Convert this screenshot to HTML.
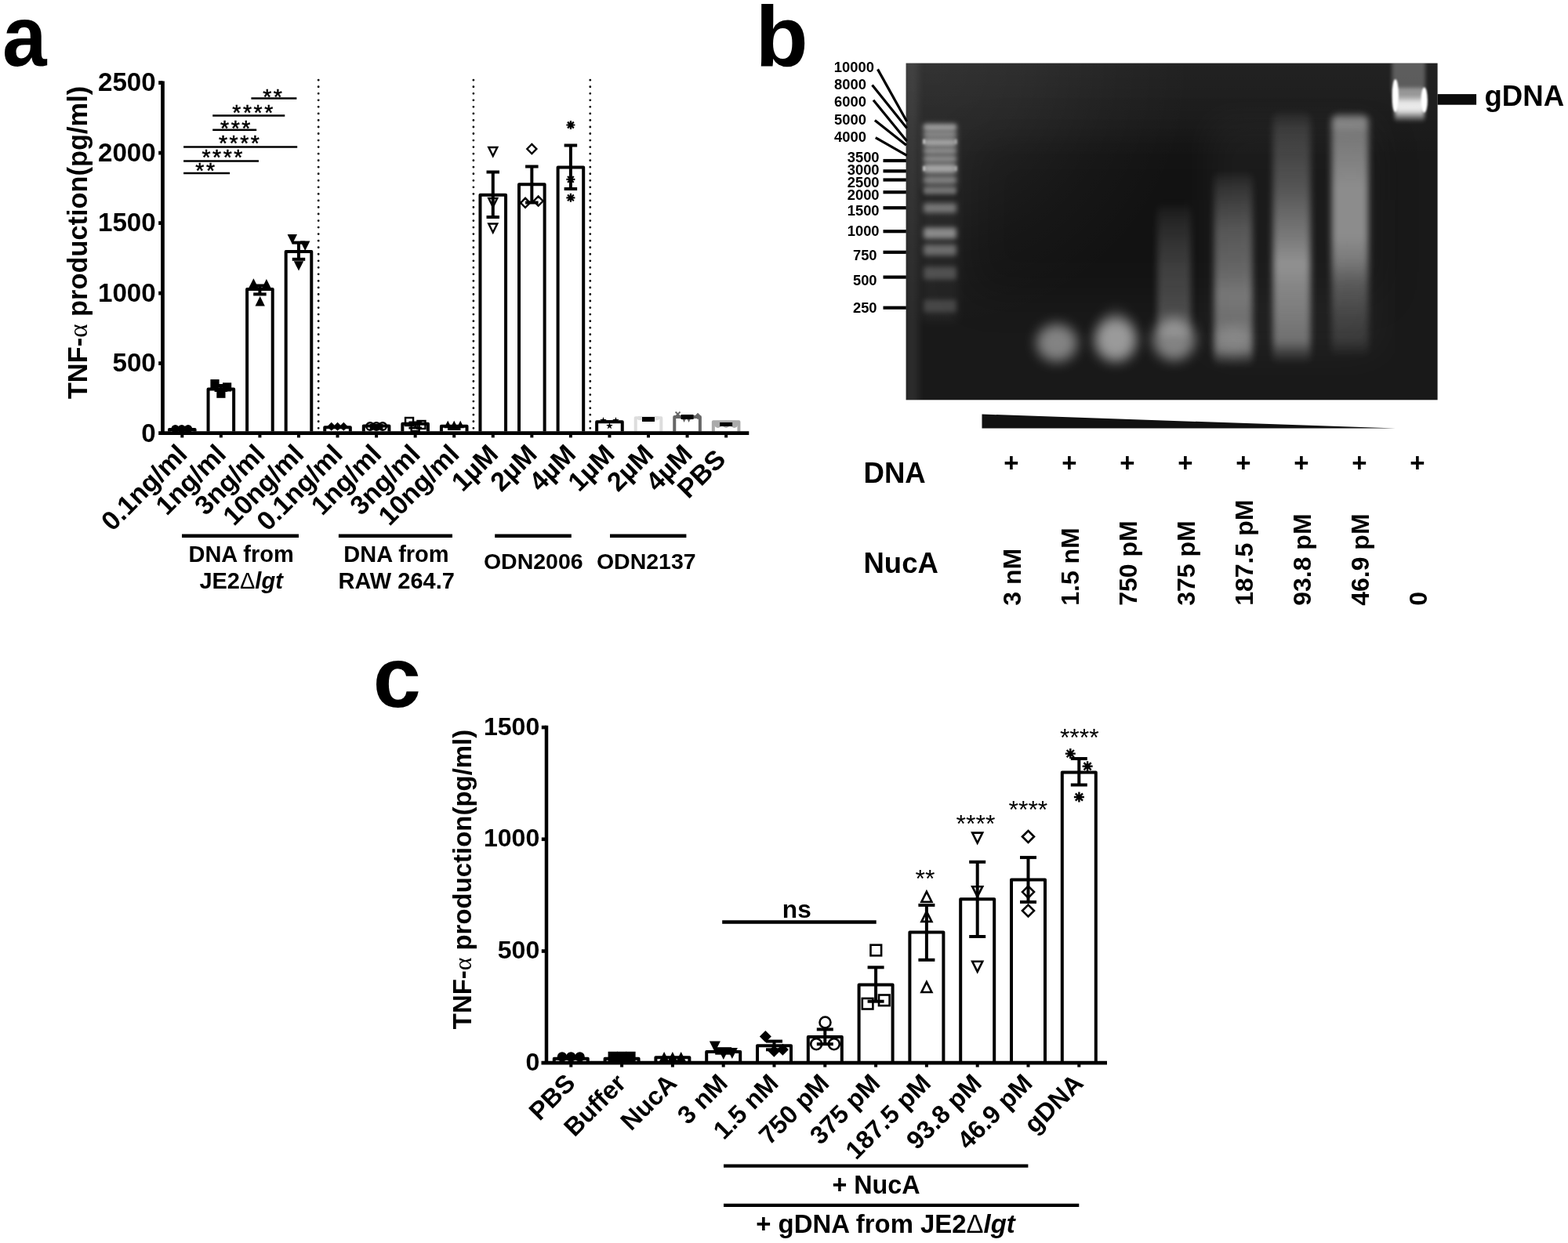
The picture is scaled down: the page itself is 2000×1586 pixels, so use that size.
<!DOCTYPE html>
<html lang="en"><head><meta charset="utf-8"><title>Figure</title>
<style>
html,body{margin:0;padding:0;background:#fff;}
body{width:2000px;height:1586px;overflow:hidden;}
svg{display:block;}
text{font-family:"Liberation Sans",sans-serif;fill:#000;}
</style></head><body>
<svg width="2000" height="1586" viewBox="0 0 2000 1586">
<rect x="0" y="0" width="2000" height="1586" fill="#fff"/>
<g id="panel-a">
<text transform="translate(2.9 83.7) scale(0.925 1)" font-size="110" font-weight="bold">a</text>
<text x="198.8" y="563.5" font-size="33.2" font-weight="bold" text-anchor="end" >0</text>
<line x1="202.2" y1="463.6" x2="207.5" y2="463.6" stroke="#000" stroke-width="4.8" />
<text x="198.8" y="474" font-size="33.2" font-weight="bold" text-anchor="end" >500</text>
<line x1="202.2" y1="374.1" x2="207.5" y2="374.1" stroke="#000" stroke-width="4.8" />
<text x="198.8" y="384.5" font-size="33.2" font-weight="bold" text-anchor="end" >1000</text>
<line x1="202.2" y1="284.6" x2="207.5" y2="284.6" stroke="#000" stroke-width="4.8" />
<text x="198.8" y="295" font-size="33.2" font-weight="bold" text-anchor="end" >1500</text>
<line x1="202.2" y1="195.1" x2="207.5" y2="195.1" stroke="#000" stroke-width="4.8" />
<text x="198.8" y="205.5" font-size="33.2" font-weight="bold" text-anchor="end" >2000</text>
<line x1="202.2" y1="105.6" x2="207.5" y2="105.6" stroke="#000" stroke-width="4.8" />
<text x="198.8" y="116" font-size="33.2" font-weight="bold" text-anchor="end" >2500</text>
<text x="111.3" y="309.5" font-size="34.4" font-weight="bold" text-anchor="middle" transform="rotate(-90 111.3 309.5)" >TNF-<tspan font-weight="normal" font-family="'Liberation Serif', serif" font-size="33">α</tspan> production(pg/ml)</text>
<line x1="406.2" y1="102.2" x2="406.2" y2="548" stroke="#000" stroke-width="2.8" stroke-dasharray="0 8.54" stroke-linecap="round"/>
<line x1="603.9" y1="102.2" x2="603.9" y2="548" stroke="#000" stroke-width="2.8" stroke-dasharray="0 8.54" stroke-linecap="round"/>
<line x1="752.8" y1="102.2" x2="752.8" y2="548" stroke="#000" stroke-width="2.8" stroke-dasharray="0 8.54" stroke-linecap="round"/>
<path d="M216 550.6V548H248.6V550.6" fill="none" stroke="#000" stroke-width="4" stroke-linejoin="round"/>
<path d="M265.56 550.6V496.6H298.16V550.6" fill="none" stroke="#000" stroke-width="4" stroke-linejoin="round"/>
<path d="M315.12 550.6V369H347.72V550.6" fill="none" stroke="#000" stroke-width="4" stroke-linejoin="round"/>
<path d="M364.68 550.6V321H397.28V550.6" fill="none" stroke="#000" stroke-width="4" stroke-linejoin="round"/>
<path d="M414.24 550.6V545.3H446.84V550.6" fill="none" stroke="#000" stroke-width="4" stroke-linejoin="round"/>
<path d="M463.8 550.6V543.5H496.4V550.6" fill="none" stroke="#000" stroke-width="4" stroke-linejoin="round"/>
<path d="M513.36 550.6V540.8H545.96V550.6" fill="none" stroke="#000" stroke-width="4" stroke-linejoin="round"/>
<path d="M562.92 550.6V543.8H595.52V550.6" fill="none" stroke="#000" stroke-width="4" stroke-linejoin="round"/>
<path d="M612.48 550.6V248.7H645.08V550.6" fill="none" stroke="#000" stroke-width="4" stroke-linejoin="round"/>
<path d="M662.04 550.6V235.3H694.64V550.6" fill="none" stroke="#000" stroke-width="4" stroke-linejoin="round"/>
<path d="M711.6 550.6V213.4H744.2V550.6" fill="none" stroke="#000" stroke-width="4" stroke-linejoin="round"/>
<path d="M761.16 550.6V538.2H793.76V550.6" fill="none" stroke="#000" stroke-width="4" stroke-linejoin="round"/>
<path d="M810.72 550.6V533.2H843.32V550.6" fill="none" stroke="#ddd" stroke-width="4" stroke-linejoin="round"/>
<path d="M860.28 550.6V532H892.88V550.6" fill="none" stroke="#666" stroke-width="4" stroke-linejoin="round"/>
<path d="M909.84 550.6V538.2H942.44V550.6" fill="none" stroke="#aaa" stroke-width="4" stroke-linejoin="round"/>
<circle cx="223.6" cy="547.3" r="5.2" fill="#000" stroke="#000" stroke-width="0" stroke-linejoin="miter"/>
<circle cx="231.8" cy="547.3" r="5.2" fill="#000" stroke="#000" stroke-width="0" stroke-linejoin="miter"/>
<circle cx="240" cy="547.3" r="5.2" fill="#000" stroke="#000" stroke-width="0" stroke-linejoin="miter"/>
<line x1="281.86" y1="492" x2="281.86" y2="498" stroke="#000" stroke-width="4" />
<line x1="273.61" y1="492" x2="290.11" y2="492" stroke="#000" stroke-width="4" />
<line x1="273.61" y1="498" x2="290.11" y2="498" stroke="#000" stroke-width="4" />
<rect x="268.4" y="484.1" width="11.2" height="11.2" fill="#000" stroke="#000" stroke-width="0" stroke-linejoin="miter"/>
<rect x="276.3" y="496.6" width="11.2" height="11.2" fill="#000" stroke="#000" stroke-width="0" stroke-linejoin="miter"/>
<rect x="284" y="488.3" width="11.2" height="11.2" fill="#000" stroke="#000" stroke-width="0" stroke-linejoin="miter"/>
<line x1="331.42" y1="364.5" x2="331.42" y2="375.4" stroke="#000" stroke-width="4" />
<line x1="323.17" y1="364.5" x2="339.67" y2="364.5" stroke="#000" stroke-width="4" />
<line x1="323.17" y1="375.4" x2="339.67" y2="375.4" stroke="#000" stroke-width="4" />
<path d="M317.2 367.6L329.6 367.6L323.4 355.2Z" fill="#000" stroke="#000" stroke-width="0" stroke-linejoin="miter"/>
<path d="M333.7 368.5L346.1 368.5L339.9 356.1Z" fill="#000" stroke="#000" stroke-width="0" stroke-linejoin="miter"/>
<path d="M325.5 390.4L337.9 390.4L331.7 378Z" fill="#000" stroke="#000" stroke-width="0" stroke-linejoin="miter"/>
<line x1="380.98" y1="309.6" x2="380.98" y2="330.8" stroke="#000" stroke-width="4" />
<line x1="372.73" y1="309.6" x2="389.23" y2="309.6" stroke="#000" stroke-width="4" />
<line x1="372.73" y1="330.8" x2="389.23" y2="330.8" stroke="#000" stroke-width="4" />
<path d="M366.6 299L379 299L372.8 311.4Z" fill="#000" stroke="#000" stroke-width="0" stroke-linejoin="miter"/>
<path d="M383 307.6L395.4 307.6L389.2 320Z" fill="#000" stroke="#000" stroke-width="0" stroke-linejoin="miter"/>
<path d="M374.8 333.2L387.2 333.2L381 345.6Z" fill="#000" stroke="#000" stroke-width="0" stroke-linejoin="miter"/>
<path d="M417.24 544.2L422.74 538.7L428.24 544.2L422.74 549.7Z" fill="#000" stroke="#000" stroke-width="0" stroke-linejoin="miter"/>
<path d="M425.04 544.2L430.54 538.7L436.04 544.2L430.54 549.7Z" fill="#000" stroke="#000" stroke-width="0" stroke-linejoin="miter"/>
<path d="M432.84 544.2L438.34 538.7L443.84 544.2L438.34 549.7Z" fill="#000" stroke="#000" stroke-width="0" stroke-linejoin="miter"/>
<line x1="480.1" y1="542.5" x2="480.1" y2="546.5" stroke="#000" stroke-width="3" />
<line x1="471.85" y1="542.5" x2="488.35" y2="542.5" stroke="#000" stroke-width="3" />
<line x1="471.85" y1="546.5" x2="488.35" y2="546.5" stroke="#000" stroke-width="3" />
<circle cx="472.1" cy="544" r="4.8" fill="none" stroke="#000" stroke-width="2.4" stroke-linejoin="miter"/>
<circle cx="480.1" cy="544" r="4.8" fill="none" stroke="#000" stroke-width="2.4" stroke-linejoin="miter"/>
<circle cx="488.1" cy="544" r="4.8" fill="none" stroke="#000" stroke-width="2.4" stroke-linejoin="miter"/>
<line x1="529.66" y1="539" x2="529.66" y2="546" stroke="#000" stroke-width="3" />
<line x1="521.41" y1="539" x2="537.91" y2="539" stroke="#000" stroke-width="3" />
<line x1="521.41" y1="546" x2="537.91" y2="546" stroke="#000" stroke-width="3" />
<rect x="517.06" y="533" width="10" height="10" fill="none" stroke="#000" stroke-width="2.4" stroke-linejoin="miter"/>
<rect x="524.66" y="540" width="10" height="10" fill="none" stroke="#000" stroke-width="2.4" stroke-linejoin="miter"/>
<rect x="532.46" y="537" width="10" height="10" fill="none" stroke="#000" stroke-width="2.4" stroke-linejoin="miter"/>
<line x1="579.22" y1="544" x2="579.22" y2="547.5" stroke="#000" stroke-width="3" />
<line x1="570.97" y1="544" x2="587.47" y2="544" stroke="#000" stroke-width="3" />
<line x1="570.97" y1="547.5" x2="587.47" y2="547.5" stroke="#000" stroke-width="3" />
<path d="M566.42 546.3L576.02 546.3L571.22 536.7Z" fill="#000" stroke="#000" stroke-width="0" stroke-linejoin="miter"/>
<path d="M574.42 546.3L584.02 546.3L579.22 536.7Z" fill="#000" stroke="#000" stroke-width="0" stroke-linejoin="miter"/>
<path d="M582.42 546.3L592.02 546.3L587.22 536.7Z" fill="#000" stroke="#000" stroke-width="0" stroke-linejoin="miter"/>
<line x1="628.78" y1="219.5" x2="628.78" y2="277" stroke="#000" stroke-width="4" />
<line x1="620.53" y1="219.5" x2="637.03" y2="219.5" stroke="#000" stroke-width="4" />
<line x1="620.53" y1="277" x2="637.03" y2="277" stroke="#000" stroke-width="4" />
<path d="M623.28 188L634.28 188L628.78 199Z" fill="none" stroke="#000" stroke-width="2.4" stroke-linejoin="miter"/>
<path d="M623.28 253L634.28 253L628.78 264Z" fill="none" stroke="#000" stroke-width="2.4" stroke-linejoin="miter"/>
<path d="M623.28 285.5L634.28 285.5L628.78 296.5Z" fill="none" stroke="#000" stroke-width="2.4" stroke-linejoin="miter"/>
<line x1="678.34" y1="212.5" x2="678.34" y2="258.5" stroke="#000" stroke-width="4" />
<line x1="670.09" y1="212.5" x2="686.59" y2="212.5" stroke="#000" stroke-width="4" />
<line x1="670.09" y1="258.5" x2="686.59" y2="258.5" stroke="#000" stroke-width="4" />
<path d="M672.34 190L678.34 184L684.34 190L678.34 196Z" fill="none" stroke="#000" stroke-width="2.4" stroke-linejoin="miter"/>
<path d="M664.04 258.8L670.04 252.8L676.04 258.8L670.04 264.8Z" fill="none" stroke="#000" stroke-width="2.4" stroke-linejoin="miter"/>
<path d="M680.64 256.5L686.64 250.5L692.64 256.5L686.64 262.5Z" fill="none" stroke="#000" stroke-width="2.4" stroke-linejoin="miter"/>
<line x1="727.9" y1="185.5" x2="727.9" y2="241" stroke="#000" stroke-width="4" />
<line x1="719.65" y1="185.5" x2="736.15" y2="185.5" stroke="#000" stroke-width="4" />
<line x1="719.65" y1="241" x2="736.15" y2="241" stroke="#000" stroke-width="4" />
<path d="M722.4 159.5L733.4 159.5M724.01 155.61L731.79 163.39M727.9 154L727.9 165M731.79 155.61L724.01 163.39" fill="none" stroke="#000" stroke-width="2.2"/>
<path d="M722.4 228.8L733.4 228.8M724.01 224.91L731.79 232.69M727.9 223.3L727.9 234.3M731.79 224.91L724.01 232.69" fill="none" stroke="#000" stroke-width="2.2"/>
<path d="M722.4 252.3L733.4 252.3M724.01 248.41L731.79 256.19M727.9 246.8L727.9 257.8M731.79 248.41L724.01 256.19" fill="none" stroke="#000" stroke-width="2.2"/>
<path d="M769.46 532L770.52 535.04L773.74 535.11L771.17 537.06L772.11 540.14L769.46 538.3L766.81 540.14L767.75 537.06L765.18 535.11L768.4 535.04Z" fill="#000"/>
<path d="M785.46 532L786.52 535.04L789.74 535.11L787.17 537.06L788.11 540.14L785.46 538.3L782.81 540.14L783.75 537.06L781.18 535.11L784.4 535.04Z" fill="#000"/>
<path d="M777.46 539L778.52 542.04L781.74 542.11L779.17 544.06L780.11 547.14L777.46 545.3L774.81 547.14L775.75 544.06L773.18 542.11L776.4 542.04Z" fill="#000"/>
<line x1="768.46" y1="538" x2="786.46" y2="538" stroke="#000" stroke-width="3.5" />
<rect x="813.92" y="530.9" width="5.2" height="5.2" fill="#ddd" stroke="#ddd" stroke-width="0" stroke-linejoin="miter"/>
<rect x="834.92" y="530.9" width="5.2" height="5.2" fill="#ddd" stroke="#ddd" stroke-width="0" stroke-linejoin="miter"/>
<line x1="819.02" y1="535" x2="835.02" y2="535" stroke="#000" stroke-width="6" />
<path d="M861.58 525.5l6 6m0 -6l-6 6" stroke="#666" stroke-width="1.8" fill="none"/>
<path d="M885.88 531L890.08 526.8L894.28 531L890.08 535.2Z" fill="#666" stroke="#666" stroke-width="0" stroke-linejoin="miter"/>
<path d="M869.98 533.9L875.18 533.9L872.58 539.1Z" fill="#666" stroke="#666" stroke-width="0" stroke-linejoin="miter"/>
<path d="M875.98 533.9L881.18 533.9L878.58 539.1Z" fill="#666" stroke="#666" stroke-width="0" stroke-linejoin="miter"/>
<line x1="868.58" y1="532" x2="884.58" y2="532" stroke="#000" stroke-width="6" />
<circle cx="915.64" cy="541.3" r="4.6" fill="#aaa" stroke="#aaa" stroke-width="0" stroke-linejoin="miter"/>
<circle cx="926.14" cy="541.3" r="4.6" fill="#aaa" stroke="#aaa" stroke-width="0" stroke-linejoin="miter"/>
<circle cx="936.64" cy="541.3" r="4.6" fill="#aaa" stroke="#aaa" stroke-width="0" stroke-linejoin="miter"/>
<line x1="918.14" y1="541.5" x2="934.14" y2="541.5" stroke="#000" stroke-width="5" />
<line x1="207.5" y1="103.5" x2="207.5" y2="554.9" stroke="#000" stroke-width="4.7" />
<line x1="202.2" y1="552.6" x2="955.3" y2="552.6" stroke="#000" stroke-width="4.6" />
<line x1="232.3" y1="552.6" x2="232.3" y2="558.4" stroke="#000" stroke-width="4" />
<line x1="281.86" y1="552.6" x2="281.86" y2="558.4" stroke="#000" stroke-width="4" />
<line x1="331.42" y1="552.6" x2="331.42" y2="558.4" stroke="#000" stroke-width="4" />
<line x1="380.98" y1="552.6" x2="380.98" y2="558.4" stroke="#000" stroke-width="4" />
<line x1="430.54" y1="552.6" x2="430.54" y2="558.4" stroke="#000" stroke-width="4" />
<line x1="480.1" y1="552.6" x2="480.1" y2="558.4" stroke="#000" stroke-width="4" />
<line x1="529.66" y1="552.6" x2="529.66" y2="558.4" stroke="#000" stroke-width="4" />
<line x1="579.22" y1="552.6" x2="579.22" y2="558.4" stroke="#000" stroke-width="4" />
<line x1="628.78" y1="552.6" x2="628.78" y2="558.4" stroke="#000" stroke-width="4" />
<line x1="678.34" y1="552.6" x2="678.34" y2="558.4" stroke="#000" stroke-width="4" />
<line x1="727.9" y1="552.6" x2="727.9" y2="558.4" stroke="#000" stroke-width="4" />
<line x1="777.46" y1="552.6" x2="777.46" y2="558.4" stroke="#000" stroke-width="4" />
<line x1="827.02" y1="552.6" x2="827.02" y2="558.4" stroke="#000" stroke-width="4" />
<line x1="876.58" y1="552.6" x2="876.58" y2="558.4" stroke="#000" stroke-width="4" />
<line x1="926.14" y1="552.6" x2="926.14" y2="558.4" stroke="#000" stroke-width="4" />
<text x="240.7" y="581.5" font-size="34" font-weight="bold" text-anchor="end" transform="rotate(-45 240.7 581.5)" >0.1ng/ml</text>
<text x="290.26" y="581.5" font-size="34" font-weight="bold" text-anchor="end" transform="rotate(-45 290.26 581.5)" >1ng/ml</text>
<text x="339.82" y="581.5" font-size="34" font-weight="bold" text-anchor="end" transform="rotate(-45 339.82 581.5)" >3ng/ml</text>
<text x="389.38" y="581.5" font-size="34" font-weight="bold" text-anchor="end" transform="rotate(-45 389.38 581.5)" >10ng/ml</text>
<text x="438.94" y="581.5" font-size="34" font-weight="bold" text-anchor="end" transform="rotate(-45 438.94 581.5)" >0.1ng/ml</text>
<text x="488.5" y="581.5" font-size="34" font-weight="bold" text-anchor="end" transform="rotate(-45 488.5 581.5)" >1ng/ml</text>
<text x="538.06" y="581.5" font-size="34" font-weight="bold" text-anchor="end" transform="rotate(-45 538.06 581.5)" >3ng/ml</text>
<text x="587.62" y="581.5" font-size="34" font-weight="bold" text-anchor="end" transform="rotate(-45 587.62 581.5)" >10ng/ml</text>
<text x="637.18" y="581.5" font-size="34" font-weight="bold" text-anchor="end" transform="rotate(-45 637.18 581.5)" >1µM</text>
<text x="686.74" y="581.5" font-size="34" font-weight="bold" text-anchor="end" transform="rotate(-45 686.74 581.5)" >2µM</text>
<text x="736.3" y="581.5" font-size="34" font-weight="bold" text-anchor="end" transform="rotate(-45 736.3 581.5)" >4µM</text>
<text x="785.86" y="581.5" font-size="34" font-weight="bold" text-anchor="end" transform="rotate(-45 785.86 581.5)" >1µM</text>
<text x="835.42" y="581.5" font-size="34" font-weight="bold" text-anchor="end" transform="rotate(-45 835.42 581.5)" >2µM</text>
<text x="884.98" y="581.5" font-size="34" font-weight="bold" text-anchor="end" transform="rotate(-45 884.98 581.5)" >4µM</text>
<text x="927.54" y="588" font-size="34" font-weight="bold" text-anchor="end" transform="rotate(-45 927.54 588)" >PBS</text>
<line x1="320.4" y1="125.4" x2="378.4" y2="125.4" stroke="#000" stroke-width="2.5" />
<text x="335.14" y="133.31" font-size="28.5" font-weight="normal" text-anchor="start" letter-spacing="2.51" stroke="#000" stroke-width="0.5">**</text>
<line x1="271.2" y1="147.6" x2="363.3" y2="147.6" stroke="#000" stroke-width="2.5" />
<text x="296.34" y="152.81" font-size="28.5" font-weight="normal" text-anchor="start" letter-spacing="2.51" stroke="#000" stroke-width="0.5">****</text>
<line x1="271.2" y1="165.7" x2="327.2" y2="165.7" stroke="#000" stroke-width="2.5" />
<text x="281.04" y="172.61" font-size="28.5" font-weight="normal" text-anchor="start" letter-spacing="2.51" stroke="#000" stroke-width="0.5">***</text>
<line x1="234.1" y1="187.4" x2="379.2" y2="187.4" stroke="#000" stroke-width="2.5" />
<text x="278.94" y="192.31" font-size="28.5" font-weight="normal" text-anchor="start" letter-spacing="2.51" stroke="#000" stroke-width="0.5">****</text>
<line x1="234.1" y1="205.6" x2="330" y2="205.6" stroke="#000" stroke-width="2.5" />
<text x="257.44" y="210.41" font-size="28.5" font-weight="normal" text-anchor="start" letter-spacing="2.51" stroke="#000" stroke-width="0.5">****</text>
<line x1="234.1" y1="221" x2="293.1" y2="221" stroke="#000" stroke-width="2.5" />
<text x="249.34" y="227.01" font-size="28.5" font-weight="normal" text-anchor="start" letter-spacing="2.51" stroke="#000" stroke-width="0.5">**</text>
<line x1="232" y1="683.8" x2="381" y2="683.8" stroke="#000" stroke-width="4.5" />
<line x1="431.9" y1="683.8" x2="577" y2="683.8" stroke="#000" stroke-width="4.5" />
<line x1="631.2" y1="683.8" x2="728.8" y2="683.8" stroke="#000" stroke-width="4.5" />
<line x1="778" y1="683.8" x2="875.4" y2="683.8" stroke="#000" stroke-width="4.5" />
<text x="307.6" y="717" font-size="29" font-weight="bold" text-anchor="middle" >DNA from</text>
<text x="307.6" y="751" font-size="29" font-weight="bold" text-anchor="middle" >JE2<tspan font-weight="normal">Δ</tspan><tspan font-style="italic">lgt</tspan></text>
<text x="505.5" y="717" font-size="29" font-weight="bold" text-anchor="middle" >DNA from</text>
<text x="505.7" y="751" font-size="29" font-weight="bold" text-anchor="middle" >RAW 264.7</text>
<text x="680.3" y="725.5" font-size="28.5" font-weight="bold" text-anchor="middle" >ODN2006</text>
<text x="824.3" y="725.5" font-size="28.5" font-weight="bold" text-anchor="middle" >ODN2137</text>
</g>
<g id="panel-b">
<text x="963.5" y="83.7" font-size="110" font-weight="bold" text-anchor="start" >b</text>
<defs><filter id="b1" x="-60%" y="-60%" width="220%" height="220%" color-interpolation-filters="sRGB"><feGaussianBlur stdDeviation="1.3"/></filter><filter id="b2" x="-60%" y="-60%" width="220%" height="220%" color-interpolation-filters="sRGB"><feGaussianBlur stdDeviation="2.4"/></filter><filter id="b3" x="-60%" y="-60%" width="220%" height="220%" color-interpolation-filters="sRGB"><feGaussianBlur stdDeviation="3.2"/></filter><filter id="b4" x="-60%" y="-60%" width="220%" height="220%" color-interpolation-filters="sRGB"><feGaussianBlur stdDeviation="4.5"/></filter><filter id="b6" x="-60%" y="-60%" width="220%" height="220%" color-interpolation-filters="sRGB"><feGaussianBlur stdDeviation="6"/></filter><filter id="b8" x="-60%" y="-60%" width="220%" height="220%" color-interpolation-filters="sRGB"><feGaussianBlur stdDeviation="8"/></filter><filter id="b12" x="-60%" y="-60%" width="220%" height="220%" color-interpolation-filters="sRGB"><feGaussianBlur stdDeviation="12"/></filter><filter id="b25" x="-60%" y="-60%" width="220%" height="220%" color-interpolation-filters="sRGB"><feGaussianBlur stdDeviation="25"/></filter><clipPath id="gelclip"><rect x="1155.6" y="80.6" width="678" height="429.7"/></clipPath><linearGradient id="l3" x1="0" y1="0" x2="0" y2="1"><stop offset="0" stop-color="#fff" stop-opacity="0"/><stop offset="0.1" stop-color="#fff" stop-opacity="0.07"/><stop offset="0.3" stop-color="#fff" stop-opacity="0.14"/><stop offset="0.5" stop-color="#fff" stop-opacity="0.19"/><stop offset="0.7" stop-color="#fff" stop-opacity="0.21"/><stop offset="0.85" stop-color="#fff" stop-opacity="0.23"/><stop offset="1" stop-color="#fff" stop-opacity="0.1"/></linearGradient><linearGradient id="l4" x1="0" y1="0" x2="0" y2="1"><stop offset="0" stop-color="#fff" stop-opacity="0.03"/><stop offset="0.08" stop-color="#fff" stop-opacity="0.12"/><stop offset="0.3" stop-color="#fff" stop-opacity="0.27"/><stop offset="0.5" stop-color="#fff" stop-opacity="0.33"/><stop offset="0.63" stop-color="#fff" stop-opacity="0.4"/><stop offset="0.75" stop-color="#fff" stop-opacity="0.36"/><stop offset="0.84" stop-color="#fff" stop-opacity="0.4"/><stop offset="0.91" stop-color="#fff" stop-opacity="0.36"/><stop offset="0.96" stop-color="#fff" stop-opacity="0.14"/><stop offset="1" stop-color="#fff" stop-opacity="0"/></linearGradient><linearGradient id="l5" x1="0" y1="0" x2="0" y2="1"><stop offset="0" stop-color="#fff" stop-opacity="0.04"/><stop offset="0.06" stop-color="#fff" stop-opacity="0.13"/><stop offset="0.3" stop-color="#fff" stop-opacity="0.26"/><stop offset="0.5" stop-color="#fff" stop-opacity="0.42"/><stop offset="0.6" stop-color="#fff" stop-opacity="0.52"/><stop offset="0.7" stop-color="#fff" stop-opacity="0.46"/><stop offset="0.83" stop-color="#fff" stop-opacity="0.4"/><stop offset="0.91" stop-color="#fff" stop-opacity="0.36"/><stop offset="0.96" stop-color="#fff" stop-opacity="0.14"/><stop offset="1" stop-color="#fff" stop-opacity="0"/></linearGradient><linearGradient id="l6" x1="0" y1="0" x2="0" y2="1"><stop offset="0" stop-color="#fff" stop-opacity="0.3"/><stop offset="0.03" stop-color="#fff" stop-opacity="0.48"/><stop offset="0.08" stop-color="#fff" stop-opacity="0.4"/><stop offset="0.3" stop-color="#fff" stop-opacity="0.5"/><stop offset="0.5" stop-color="#fff" stop-opacity="0.5"/><stop offset="0.6" stop-color="#fff" stop-opacity="0.42"/><stop offset="0.7" stop-color="#fff" stop-opacity="0.27"/><stop offset="0.83" stop-color="#fff" stop-opacity="0.17"/><stop offset="0.93" stop-color="#fff" stop-opacity="0.12"/><stop offset="1" stop-color="#fff" stop-opacity="0"/></linearGradient><linearGradient id="gd" x1="0" y1="0" x2="0" y2="1"><stop offset="0" stop-color="#fff" stop-opacity="0.3"/><stop offset="0.25" stop-color="#fff" stop-opacity="0.6"/><stop offset="0.5" stop-color="#fff" stop-opacity="0.85"/><stop offset="0.7" stop-color="#fff" stop-opacity="0.8"/><stop offset="0.85" stop-color="#fff" stop-opacity="0.4"/><stop offset="1" stop-color="#fff" stop-opacity="0"/></linearGradient><radialGradient id="gtl" gradientUnits="userSpaceOnUse" cx="1190" cy="90" r="330"><stop offset="0" stop-color="#fff" stop-opacity="0.075"/><stop offset="0.35" stop-color="#fff" stop-opacity="0.055"/><stop offset="0.7" stop-color="#fff" stop-opacity="0.02"/><stop offset="1" stop-color="#fff" stop-opacity="0"/></radialGradient><linearGradient id="gtop" x1="0" y1="0" x2="0" y2="1"><stop offset="0" stop-color="#fff" stop-opacity="0.04"/><stop offset="1" stop-color="#fff" stop-opacity="0"/></linearGradient></defs>
<rect x="1155.6" y="80.6" width="678" height="429.7" fill="#191919" stroke="none" stroke-width="0" />
<g clip-path="url(#gelclip)">
<rect x="1240" y="175" width="520" height="200" fill="#000" opacity="0.25" filter="url(#b25)"/>
<rect x="1156" y="60" width="14" height="470" fill="#fff" opacity="0.1" filter="url(#b6)"/>
<rect x="1155" y="80" width="680" height="431" fill="url(#gtl)"/>
<rect x="1155" y="80" width="680" height="120" fill="url(#gtop)"/>
<rect x="1178" y="158" width="42" height="82" fill="#fff" opacity="0.24" filter="url(#b4)"/>
<rect x="1176" y="250" width="46" height="160" fill="#fff" opacity="0.04" filter="url(#b6)"/>
<rect x="1178" y="158.3" width="42" height="8" rx="2" fill="#fff" opacity="0.4" filter="url(#b2)"/>
<rect x="1178" y="168.4" width="42" height="6" rx="2" fill="#fff" opacity="0.3" filter="url(#b2)"/>
<rect x="1178" y="177.2" width="42" height="9" rx="2" fill="#fff" opacity="0.43" filter="url(#b2)"/>
<rect x="1178" y="189.1" width="42" height="7" rx="2" fill="#fff" opacity="0.3" filter="url(#b2)"/>
<rect x="1178" y="199.2" width="42" height="7" rx="2" fill="#fff" opacity="0.3" filter="url(#b2)"/>
<rect x="1178" y="210" width="42" height="10" rx="2" fill="#fff" opacity="0.45" filter="url(#b2)"/>
<rect x="1178" y="226.2" width="42" height="7" rx="2" fill="#fff" opacity="0.24" filter="url(#b2)"/>
<rect x="1178" y="238.9" width="42" height="9" rx="2" fill="#fff" opacity="0.33" filter="url(#b2)"/>
<rect x="1178" y="259.4" width="42" height="12" rx="2" fill="#fff" opacity="0.36" filter="url(#b3)"/>
<rect x="1178" y="290.4" width="42" height="14" rx="2" fill="#fff" opacity="0.46" filter="url(#b3)"/>
<rect x="1178" y="311.9" width="42" height="14" rx="2" fill="#fff" opacity="0.32" filter="url(#b3)"/>
<rect x="1178" y="340.6" width="42" height="16" rx="2" fill="#fff" opacity="0.2" filter="url(#b3)"/>
<rect x="1178" y="382.6" width="42" height="16" rx="2" fill="#fff" opacity="0.16" filter="url(#b3)"/>
<rect x="1177" y="177.5" width="3.5" height="6" fill="#fff" opacity="0.5" filter="url(#b1)"/>
<rect x="1217.5" y="177.5" width="3.5" height="6" fill="#fff" opacity="0.3" filter="url(#b1)"/>
<rect x="1177" y="212" width="3.5" height="6" fill="#fff" opacity="0.5" filter="url(#b1)"/>
<rect x="1217.5" y="212" width="3.5" height="6" fill="#fff" opacity="0.3" filter="url(#b1)"/>
<rect x="1540" y="150" width="220" height="300" fill="#fff" opacity="0.035" filter="url(#b25)"/>
<ellipse cx="1348" cy="437.5" rx="26" ry="24" fill="#fff" opacity="0.46" filter="url(#b8)"/>
<ellipse cx="1423" cy="424" rx="22" ry="30" fill="#fff" opacity="0.12" filter="url(#b8)"/>
<ellipse cx="1423" cy="434" rx="27" ry="28" fill="#fff" opacity="0.5" filter="url(#b8)"/>
<rect x="1476" y="258" width="43" height="172" rx="8" fill="url(#l3)" filter="url(#b4)"/>
<rect x="1548.5" y="220" width="49" height="248" rx="8" fill="url(#l4)" filter="url(#b4)"/>
<rect x="1623.5" y="144" width="48" height="320" rx="8" fill="url(#l5)" filter="url(#b4)"/>
<rect x="1698.5" y="146" width="47" height="310" rx="8" fill="url(#l6)" filter="url(#b4)"/>
<ellipse cx="1497.5" cy="433" rx="27" ry="27" fill="#fff" opacity="0.46" filter="url(#b8)"/>
<ellipse cx="1573" cy="436" rx="23" ry="20" fill="#fff" opacity="0.12" filter="url(#b8)"/>
<rect x="1775.5" y="74" width="42.5" height="44" fill="#fff" opacity="0.27" filter="url(#b2)"/>
<rect x="1779" y="112" width="38" height="44" rx="4" fill="url(#gd)" filter="url(#b2)"/>
<ellipse cx="1779.8" cy="122" rx="4.2" ry="21" fill="#fff" filter="url(#b1)"/>
<ellipse cx="1816.6" cy="127.5" rx="4.2" ry="16" fill="#fff" filter="url(#b1)"/>
<rect x="1778" y="128" width="40" height="13" rx="5" fill="#fff" opacity="0.45" filter="url(#b2)"/>
</g>
<text x="1114.9" y="91.9" font-size="18.4" font-weight="bold" text-anchor="end" >10000</text>
<text x="1105" y="114.3" font-size="18.4" font-weight="bold" text-anchor="end" >8000</text>
<text x="1105" y="136.4" font-size="18.4" font-weight="bold" text-anchor="end" >6000</text>
<text x="1105" y="158.8" font-size="18.4" font-weight="bold" text-anchor="end" >5000</text>
<text x="1105" y="180.9" font-size="18.4" font-weight="bold" text-anchor="end" >4000</text>
<text x="1121.6" y="207" font-size="18.4" font-weight="bold" text-anchor="end" >3500</text>
<text x="1121.6" y="222.7" font-size="18.4" font-weight="bold" text-anchor="end" >3000</text>
<text x="1121.6" y="238.8" font-size="18.4" font-weight="bold" text-anchor="end" >2500</text>
<text x="1121.6" y="255.4" font-size="18.4" font-weight="bold" text-anchor="end" >2000</text>
<text x="1121.6" y="275.1" font-size="18.4" font-weight="bold" text-anchor="end" >1500</text>
<text x="1121.6" y="300.8" font-size="18.4" font-weight="bold" text-anchor="end" >1000</text>
<text x="1118.6" y="332.3" font-size="18.4" font-weight="bold" text-anchor="end" >750</text>
<text x="1118.6" y="363.5" font-size="18.4" font-weight="bold" text-anchor="end" >500</text>
<text x="1118.6" y="398.9" font-size="18.4" font-weight="bold" text-anchor="end" >250</text>
<line x1="1126.5" y1="205" x2="1155.8" y2="205" stroke="#000" stroke-width="4.2" />
<line x1="1126.5" y1="218.3" x2="1155.8" y2="218.3" stroke="#000" stroke-width="4.2" />
<line x1="1126.5" y1="229.5" x2="1155.8" y2="229.5" stroke="#000" stroke-width="4.2" />
<line x1="1126.5" y1="245.2" x2="1155.8" y2="245.2" stroke="#000" stroke-width="4.2" />
<line x1="1126.5" y1="265.2" x2="1155.8" y2="265.2" stroke="#000" stroke-width="4.2" />
<line x1="1126.5" y1="295.2" x2="1155.8" y2="295.2" stroke="#000" stroke-width="4.2" />
<line x1="1126.5" y1="321.8" x2="1155.8" y2="321.8" stroke="#000" stroke-width="4.2" />
<line x1="1126.5" y1="353.6" x2="1155.8" y2="353.6" stroke="#000" stroke-width="4.2" />
<line x1="1126.5" y1="392.7" x2="1155.8" y2="392.7" stroke="#000" stroke-width="4.2" />
<line x1="1119.5" y1="88.4" x2="1156.7" y2="155" stroke="#000" stroke-width="3.2" />
<line x1="1112.5" y1="108.4" x2="1156.7" y2="163.5" stroke="#000" stroke-width="3.2" />
<line x1="1114" y1="127.8" x2="1156.7" y2="180.1" stroke="#000" stroke-width="3.2" />
<line x1="1115.9" y1="153.5" x2="1156" y2="185.3" stroke="#000" stroke-width="3.2" />
<line x1="1116.8" y1="175.6" x2="1156.7" y2="198.3" stroke="#000" stroke-width="3.2" />
<rect x="1833.6" y="120.1" width="49.5" height="13.6" fill="#0b0b0b" stroke="none" stroke-width="0" />
<text x="1893.5" y="134.7" font-size="36.6" font-weight="bold" text-anchor="start" >gDNA</text>
<path d="M1252.5 528.5L1252.5 546.6L1780 546.6Z" fill="#111"/>
<text x="1101.5" y="616" font-size="36.6" font-weight="bold" text-anchor="start" >DNA</text>
<text x="1101.5" y="731" font-size="36.5" font-weight="bold" text-anchor="start" >NucA</text>
<text x="1290" y="602" font-size="33" font-weight="bold" text-anchor="middle" >+</text>
<text x="1364" y="602" font-size="33" font-weight="bold" text-anchor="middle" >+</text>
<text x="1438" y="602" font-size="33" font-weight="bold" text-anchor="middle" >+</text>
<text x="1512" y="602" font-size="33" font-weight="bold" text-anchor="middle" >+</text>
<text x="1586" y="602" font-size="33" font-weight="bold" text-anchor="middle" >+</text>
<text x="1660" y="602" font-size="33" font-weight="bold" text-anchor="middle" >+</text>
<text x="1734" y="602" font-size="33" font-weight="bold" text-anchor="middle" >+</text>
<text x="1808" y="602" font-size="33" font-weight="bold" text-anchor="middle" >+</text>
<text x="1302.5" y="772.8" font-size="32" font-weight="bold" text-anchor="start" transform="rotate(-90 1302.5 772.8)" >3 nM</text>
<text x="1376.5" y="772.8" font-size="32" font-weight="bold" text-anchor="start" transform="rotate(-90 1376.5 772.8)" >1.5 nM</text>
<text x="1450.5" y="772.8" font-size="32" font-weight="bold" text-anchor="start" transform="rotate(-90 1450.5 772.8)" >750 pM</text>
<text x="1524.5" y="772.8" font-size="32" font-weight="bold" text-anchor="start" transform="rotate(-90 1524.5 772.8)" >375 pM</text>
<text x="1598.5" y="772.8" font-size="32" font-weight="bold" text-anchor="start" transform="rotate(-90 1598.5 772.8)" >187.5 pM</text>
<text x="1672.5" y="772.8" font-size="32" font-weight="bold" text-anchor="start" transform="rotate(-90 1672.5 772.8)" >93.8 pM</text>
<text x="1746.5" y="772.8" font-size="32" font-weight="bold" text-anchor="start" transform="rotate(-90 1746.5 772.8)" >46.9 pM</text>
<text x="1820.5" y="772.8" font-size="32" font-weight="bold" text-anchor="start" transform="rotate(-90 1820.5 772.8)" >0</text>
</g>
<g id="panel-c">
<text x="475.7" y="901.8" font-size="110" font-weight="bold" text-anchor="start" >c</text>
<line x1="697" y1="925.8" x2="697" y2="1357.8" stroke="#000" stroke-width="4.5" />
<line x1="690.5" y1="1356.1" x2="1412" y2="1356.1" stroke="#000" stroke-width="4.6" />
<text x="688.3" y="1365.9" font-size="32.1" font-weight="bold" text-anchor="end" >0</text>
<line x1="690.8" y1="1213.55" x2="697" y2="1213.55" stroke="#000" stroke-width="4.6" />
<text x="688.3" y="1223.15" font-size="32.1" font-weight="bold" text-anchor="end" >500</text>
<line x1="690.8" y1="1070.8" x2="697" y2="1070.8" stroke="#000" stroke-width="4.6" />
<text x="688.3" y="1080.4" font-size="32.1" font-weight="bold" text-anchor="end" >1000</text>
<line x1="690.8" y1="928.05" x2="697" y2="928.05" stroke="#000" stroke-width="4.6" />
<text x="688.3" y="937.65" font-size="32.1" font-weight="bold" text-anchor="end" >1500</text>
<text x="601.4" y="1122" font-size="32.95" font-weight="bold" text-anchor="middle" transform="rotate(-90 601.4 1122)" >TNF-<tspan font-weight="normal" font-family="'Liberation Serif', serif" font-size="31.5">α</tspan> production(pg/ml)</text>
<line x1="728.3" y1="1355.8" x2="728.3" y2="1361.6" stroke="#000" stroke-width="4" />
<line x1="793.1" y1="1355.8" x2="793.1" y2="1361.6" stroke="#000" stroke-width="4" />
<line x1="857.9" y1="1355.8" x2="857.9" y2="1361.6" stroke="#000" stroke-width="4" />
<line x1="922.7" y1="1355.8" x2="922.7" y2="1361.6" stroke="#000" stroke-width="4" />
<line x1="987.5" y1="1355.8" x2="987.5" y2="1361.6" stroke="#000" stroke-width="4" />
<line x1="1052.3" y1="1355.8" x2="1052.3" y2="1361.6" stroke="#000" stroke-width="4" />
<line x1="1117.1" y1="1355.8" x2="1117.1" y2="1361.6" stroke="#000" stroke-width="4" />
<line x1="1181.9" y1="1355.8" x2="1181.9" y2="1361.6" stroke="#000" stroke-width="4" />
<line x1="1246.7" y1="1355.8" x2="1246.7" y2="1361.6" stroke="#000" stroke-width="4" />
<line x1="1311.5" y1="1355.8" x2="1311.5" y2="1361.6" stroke="#000" stroke-width="4" />
<line x1="1376.3" y1="1355.8" x2="1376.3" y2="1361.6" stroke="#000" stroke-width="4" />
<path d="M706.8 1355.8V1350.7H749.8V1355.8" fill="none" stroke="#000" stroke-width="4" stroke-linejoin="round"/>
<path d="M771.6 1355.8V1350.7H814.6V1355.8" fill="none" stroke="#000" stroke-width="4" stroke-linejoin="round"/>
<path d="M836.4 1355.8V1349.3H879.4V1355.8" fill="none" stroke="#000" stroke-width="4" stroke-linejoin="round"/>
<path d="M901.2 1355.8V1341.9H944.2V1355.8" fill="none" stroke="#000" stroke-width="4" stroke-linejoin="round"/>
<path d="M966 1355.8V1334.2H1009V1355.8" fill="none" stroke="#000" stroke-width="4" stroke-linejoin="round"/>
<path d="M1030.8 1355.8V1323.1H1073.8V1355.8" fill="none" stroke="#000" stroke-width="4" stroke-linejoin="round"/>
<path d="M1095.6 1355.8V1256.5H1138.6V1355.8" fill="none" stroke="#000" stroke-width="4" stroke-linejoin="round"/>
<path d="M1160.4 1355.8V1189.6H1203.4V1355.8" fill="none" stroke="#000" stroke-width="4" stroke-linejoin="round"/>
<path d="M1225.2 1355.8V1147.2H1268.2V1355.8" fill="none" stroke="#000" stroke-width="4" stroke-linejoin="round"/>
<path d="M1290 1355.8V1122.4H1333V1355.8" fill="none" stroke="#000" stroke-width="4" stroke-linejoin="round"/>
<path d="M1354.8 1355.8V985.4H1397.8V1355.8" fill="none" stroke="#000" stroke-width="4" stroke-linejoin="round"/>
<circle cx="717" cy="1348.5" r="6.2" fill="#000" stroke="#000" stroke-width="0" stroke-linejoin="miter"/>
<circle cx="728.3" cy="1348.5" r="6.2" fill="#000" stroke="#000" stroke-width="0" stroke-linejoin="miter"/>
<circle cx="739.6" cy="1348.5" r="6.2" fill="#000" stroke="#000" stroke-width="0" stroke-linejoin="miter"/>
<rect x="775.6" y="1341.8" width="12.4" height="12.4" fill="#000" stroke="#000" stroke-width="0" stroke-linejoin="miter"/>
<rect x="786.9" y="1341.8" width="12.4" height="12.4" fill="#000" stroke="#000" stroke-width="0" stroke-linejoin="miter"/>
<rect x="798.2" y="1341.8" width="12.4" height="12.4" fill="#000" stroke="#000" stroke-width="0" stroke-linejoin="miter"/>
<path d="M841.1 1354L853.1 1354L847.1 1342Z" fill="#000" stroke="#000" stroke-width="0" stroke-linejoin="miter"/>
<path d="M851.9 1354L863.9 1354L857.9 1342Z" fill="#000" stroke="#000" stroke-width="0" stroke-linejoin="miter"/>
<path d="M862.7 1354L874.7 1354L868.7 1342Z" fill="#000" stroke="#000" stroke-width="0" stroke-linejoin="miter"/>
<line x1="922.7" y1="1338.2" x2="922.7" y2="1343.7" stroke="#000" stroke-width="4" />
<line x1="912.2" y1="1338.2" x2="933.2" y2="1338.2" stroke="#000" stroke-width="4" />
<line x1="912.2" y1="1343.7" x2="933.2" y2="1343.7" stroke="#000" stroke-width="4" />
<path d="M904.9 1328.6L918.9 1328.6L911.9 1342.6Z" fill="#000" stroke="#000" stroke-width="0" stroke-linejoin="miter"/>
<path d="M915.8 1337.9L929.8 1337.9L922.8 1351.9Z" fill="#000" stroke="#000" stroke-width="0" stroke-linejoin="miter"/>
<path d="M926.9 1337L940.9 1337L933.9 1351Z" fill="#000" stroke="#000" stroke-width="0" stroke-linejoin="miter"/>
<line x1="987.5" y1="1328.6" x2="987.5" y2="1339.3" stroke="#000" stroke-width="4" />
<line x1="977" y1="1328.6" x2="998" y2="1328.6" stroke="#000" stroke-width="4" />
<line x1="977" y1="1339.3" x2="998" y2="1339.3" stroke="#000" stroke-width="4" />
<path d="M968.9 1322.5L976.4 1315L983.9 1322.5L976.4 1330Z" fill="#000" stroke="#000" stroke-width="0" stroke-linejoin="miter"/>
<path d="M979.8 1341.3L987.3 1333.8L994.8 1341.3L987.3 1348.8Z" fill="#000" stroke="#000" stroke-width="0" stroke-linejoin="miter"/>
<path d="M990.9 1339.3L998.4 1331.8L1005.9 1339.3L998.4 1346.8Z" fill="#000" stroke="#000" stroke-width="0" stroke-linejoin="miter"/>
<line x1="1052.3" y1="1313.4" x2="1052.3" y2="1332.2" stroke="#000" stroke-width="4" />
<line x1="1041.8" y1="1313.4" x2="1062.8" y2="1313.4" stroke="#000" stroke-width="4" />
<line x1="1041.8" y1="1332.2" x2="1062.8" y2="1332.2" stroke="#000" stroke-width="4" />
<circle cx="1052.5" cy="1304.5" r="7" fill="none" stroke="#000" stroke-width="2.6" stroke-linejoin="miter"/>
<circle cx="1041.2" cy="1332.2" r="7" fill="none" stroke="#000" stroke-width="2.6" stroke-linejoin="miter"/>
<circle cx="1063.8" cy="1332.2" r="7" fill="none" stroke="#000" stroke-width="2.6" stroke-linejoin="miter"/>
<line x1="1117.1" y1="1234.3" x2="1117.1" y2="1277.7" stroke="#000" stroke-width="4" />
<line x1="1106.6" y1="1234.3" x2="1127.6" y2="1234.3" stroke="#000" stroke-width="4" />
<line x1="1106.6" y1="1277.7" x2="1127.6" y2="1277.7" stroke="#000" stroke-width="4" />
<rect x="1110.5" y="1205.7" width="13.6" height="13.6" fill="none" stroke="#000" stroke-width="2.6" stroke-linejoin="miter"/>
<rect x="1099.8" y="1273.9" width="13.6" height="13.6" fill="none" stroke="#000" stroke-width="2.6" stroke-linejoin="miter"/>
<rect x="1121" y="1269.5" width="13.6" height="13.6" fill="none" stroke="#000" stroke-width="2.6" stroke-linejoin="miter"/>
<line x1="1181.9" y1="1154.9" x2="1181.9" y2="1224.8" stroke="#000" stroke-width="4" />
<line x1="1171.4" y1="1154.9" x2="1192.4" y2="1154.9" stroke="#000" stroke-width="4" />
<line x1="1171.4" y1="1224.8" x2="1192.4" y2="1224.8" stroke="#000" stroke-width="4" />
<path d="M1175.4 1150.7L1188.4 1150.7L1181.9 1137.7Z" fill="none" stroke="#000" stroke-width="2.6" stroke-linejoin="miter"/>
<path d="M1175.4 1175.9L1188.4 1175.9L1181.9 1162.9Z" fill="none" stroke="#000" stroke-width="2.6" stroke-linejoin="miter"/>
<path d="M1175.4 1266L1188.4 1266L1181.9 1253Z" fill="none" stroke="#000" stroke-width="2.6" stroke-linejoin="miter"/>
<line x1="1246.7" y1="1099.8" x2="1246.7" y2="1195" stroke="#000" stroke-width="4" />
<line x1="1236.2" y1="1099.8" x2="1257.2" y2="1099.8" stroke="#000" stroke-width="4" />
<line x1="1236.2" y1="1195" x2="1257.2" y2="1195" stroke="#000" stroke-width="4" />
<path d="M1240.2 1062.6L1253.2 1062.6L1246.7 1075.6Z" fill="none" stroke="#000" stroke-width="2.6" stroke-linejoin="miter"/>
<path d="M1240.2 1131.2L1253.2 1131.2L1246.7 1144.2Z" fill="none" stroke="#000" stroke-width="2.6" stroke-linejoin="miter"/>
<path d="M1240.2 1226.8L1253.2 1226.8L1246.7 1239.8Z" fill="none" stroke="#000" stroke-width="2.6" stroke-linejoin="miter"/>
<line x1="1311.5" y1="1094.1" x2="1311.5" y2="1150.9" stroke="#000" stroke-width="4" />
<line x1="1301" y1="1094.1" x2="1322" y2="1094.1" stroke="#000" stroke-width="4" />
<line x1="1301" y1="1150.9" x2="1322" y2="1150.9" stroke="#000" stroke-width="4" />
<path d="M1304 1067.5L1311.5 1060L1319 1067.5L1311.5 1075Z" fill="none" stroke="#000" stroke-width="2.6" stroke-linejoin="miter"/>
<path d="M1304 1138.1L1311.5 1130.6L1319 1138.1L1311.5 1145.6Z" fill="none" stroke="#000" stroke-width="2.6" stroke-linejoin="miter"/>
<path d="M1304 1162L1311.5 1154.5L1319 1162L1311.5 1169.5Z" fill="none" stroke="#000" stroke-width="2.6" stroke-linejoin="miter"/>
<line x1="1376.3" y1="968" x2="1376.3" y2="1001.5" stroke="#000" stroke-width="4" />
<line x1="1365.8" y1="968" x2="1386.8" y2="968" stroke="#000" stroke-width="4" />
<line x1="1365.8" y1="1001.5" x2="1386.8" y2="1001.5" stroke="#000" stroke-width="4" />
<path d="M1358.8 961.6L1371.8 961.6M1360.7 957L1369.9 966.2M1365.3 955.1L1365.3 968.1M1369.9 957L1360.7 966.2" fill="none" stroke="#000" stroke-width="2.4"/>
<path d="M1380.6 977.7L1393.6 977.7M1382.5 973.1L1391.7 982.3M1387.1 971.2L1387.1 984.2M1391.7 973.1L1382.5 982.3" fill="none" stroke="#000" stroke-width="2.4"/>
<path d="M1369.9 1017L1382.9 1017M1371.8 1012.4L1381 1021.6M1376.4 1010.5L1376.4 1023.5M1381 1012.4L1371.8 1021.6" fill="none" stroke="#000" stroke-width="2.4"/>
<text x="1376.8" y="951.8" font-size="32" font-weight="normal" text-anchor="middle" >****</text>
<text x="1311.4" y="1044.3" font-size="32" font-weight="normal" text-anchor="middle" >****</text>
<text x="1244.5" y="1062.1" font-size="32" font-weight="normal" text-anchor="middle" >****</text>
<text x="1180" y="1132.1" font-size="32" font-weight="normal" text-anchor="middle" >**</text>
<line x1="921.2" y1="1176.5" x2="1117.7" y2="1176.5" stroke="#000" stroke-width="4.6" />
<text x="1016.3" y="1171.3" font-size="31.6" font-weight="bold" text-anchor="middle" >ns</text>
<text x="735.5" y="1384" font-size="32.5" font-weight="bold" text-anchor="end" transform="rotate(-45 735.5 1384)" >PBS</text>
<text x="800.3" y="1384" font-size="32.5" font-weight="bold" text-anchor="end" transform="rotate(-45 800.3 1384)" >Buffer</text>
<text x="865.1" y="1384" font-size="32.5" font-weight="bold" text-anchor="end" transform="rotate(-45 865.1 1384)" >NucA</text>
<text x="929.9" y="1384" font-size="32.5" font-weight="bold" text-anchor="end" transform="rotate(-45 929.9 1384)" >3 nM</text>
<text x="994.7" y="1384" font-size="32.5" font-weight="bold" text-anchor="end" transform="rotate(-45 994.7 1384)" >1.5 nM</text>
<text x="1059.5" y="1384" font-size="32.5" font-weight="bold" text-anchor="end" transform="rotate(-45 1059.5 1384)" >750 pM</text>
<text x="1124.3" y="1384" font-size="32.5" font-weight="bold" text-anchor="end" transform="rotate(-45 1124.3 1384)" >375 pM</text>
<text x="1189.1" y="1384" font-size="32.5" font-weight="bold" text-anchor="end" transform="rotate(-45 1189.1 1384)" >187.5 pM</text>
<text x="1253.9" y="1384" font-size="32.5" font-weight="bold" text-anchor="end" transform="rotate(-45 1253.9 1384)" >93.8 pM</text>
<text x="1318.7" y="1384" font-size="32.5" font-weight="bold" text-anchor="end" transform="rotate(-45 1318.7 1384)" >46.9 pM</text>
<text x="1383.5" y="1384" font-size="32.5" font-weight="bold" text-anchor="end" transform="rotate(-45 1383.5 1384)" >gDNA</text>
<line x1="923" y1="1487.6" x2="1311.4" y2="1487.6" stroke="#000" stroke-width="4.4" />
<text x="1117.5" y="1523" font-size="32.3" font-weight="bold" text-anchor="middle" >+ NucA</text>
<line x1="923" y1="1537.9" x2="1376.3" y2="1537.9" stroke="#000" stroke-width="4.4" />
<text x="1129.5" y="1573" font-size="32.9" font-weight="bold" text-anchor="middle" >+ gDNA from JE2<tspan font-weight="normal">Δ</tspan><tspan font-style="italic">lgt</tspan></text>
</g>
</svg>
</body></html>
